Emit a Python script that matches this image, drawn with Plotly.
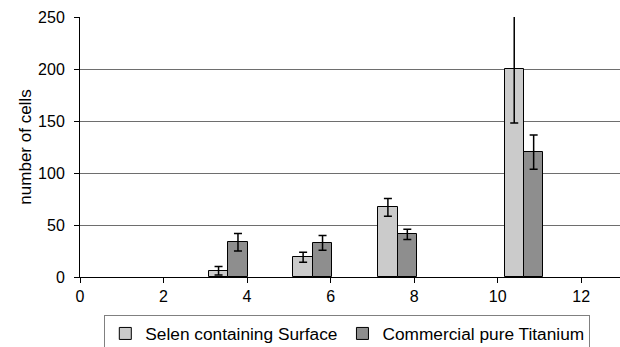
import plotly.graph_objects as go

group_x = [3.55, 5.575, 7.605, 10.63]
selen = [6, 19, 67, 200]
selen_err = [4, 4.7, 8.5, 52]
titan = [33.5, 32.8, 41, 120]
titan_err = [8.4, 7, 5, 16.5]
names = ["Selen containing Surface", "Commercial pure Titanium"]

W = 0.465
fig = go.Figure()
fig.add_trace(go.Bar(
    x=group_x, y=selen, width=W, offset=-W, name=names[0],
    marker=dict(color="#cbcbcb", line=dict(color="#000000", width=1)),
    error_y=dict(type="data", array=selen_err, color="#000000", thickness=1.5, width=4),
))
fig.add_trace(go.Bar(
    x=group_x, y=titan, width=W, offset=0, name=names[1],
    marker=dict(color="#8e8e8e", line=dict(color="#000000", width=1)),
    error_y=dict(type="data", array=titan_err, color="#000000", thickness=1.5, width=4),
))

fig.update_layout(
    width=620, height=347,
    margin=dict(l=80, r=0, t=17, b=70, autoexpand=False),
    plot_bgcolor="white", paper_bgcolor="white",
    font=dict(family="Liberation Sans, Arial, sans-serif", size=16, color="#000000"),
    showlegend=True,
    legend=dict(
        orientation="h", x=0.045, y=-0.145, xanchor="left", yanchor="top",
        bordercolor="#808080", borderwidth=1, font=dict(size=17.3),
        itemwidth=30, traceorder="normal",
    ),
    bargap=0,
)
fig.update_xaxes(
    range=[0, 12.93], tickvals=[0, 2, 4, 6, 8, 10, 12],
    ticks="outside", ticklen=5, tickcolor="#000000",
    showline=True, linecolor="#000000", linewidth=1,
    showgrid=False, zeroline=False,
)
fig.update_yaxes(
    range=[0, 250], tickvals=[0, 50, 100, 150, 200, 250],
    ticks="outside", ticklen=5, tickcolor="#000000", ticklabelstandoff=6,
    showline=True, linecolor="#000000", linewidth=1,
    showgrid=True, gridcolor="#6e6e6e", gridwidth=1, zeroline=False,
    title=dict(text="number of cells", font=dict(size=17), standoff=2),
)
fig.write_html("out.html")
